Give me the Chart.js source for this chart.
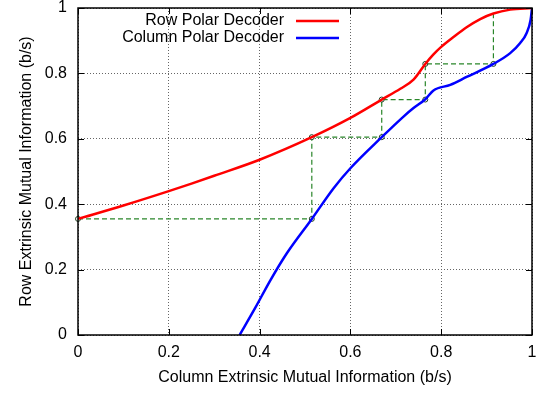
<!DOCTYPE html>
<html>
<head>
<meta charset="utf-8">
<script src="https://cdn.jsdelivr.net/npm/chart.js@4.4.1/dist/chart.umd.min.js"></script>
<style>
  html, body { margin: 0; padding: 0; background: #fff; }
  #wrap { width: 538px; height: 394px; }
</style>
</head>
<body>
<div id="wrap"><canvas id="exitChart"></canvas></div>
<script>
// EXIT chart data
const rowX = [0, 0.1, 0.2, 0.25, 0.3, 0.4, 0.515, 0.6, 0.669, 0.71, 0.739, 0.765, 0.783, 0.8, 0.827, 0.856, 0.886, 0.915, 0.952, 1];
const rowY = [0.355, 0.396, 0.44, 0.463, 0.487, 0.536, 0.605, 0.664, 0.72, 0.753, 0.781, 0.829, 0.858, 0.881, 0.911, 0.941, 0.966, 0.983, 0.995, 1];

const colX = [0.356, 0.39, 0.424, 0.46, 0.515, 0.563, 0.6, 0.669, 0.717, 0.739, 0.765, 0.783, 0.82, 0.856, 0.915, 0.952, 0.974, 0.988, 0.997, 1];
const colY = [0, 0.082, 0.168, 0.25, 0.355, 0.449, 0.51, 0.605, 0.668, 0.694, 0.721, 0.748, 0.765, 0.789, 0.829, 0.862, 0.893, 0.923, 0.964, 1];

// decoding trajectory (staircase)
const trajX = [0, 0.515, 0.515, 0.669, 0.669, 0.765, 0.765, 0.915, 0.915];
const trajY = [0.355, 0.355, 0.605, 0.605, 0.72, 0.72, 0.829, 0.829, 0.983];
const trajMarked = [1, 1, 1, 1, 1, 1, 1, 1, 0];

const tickValues = [0, 0.2, 0.4, 0.6, 0.8, 1];
const labels = ['Row Polar Decoder', 'Column Polar Decoder'];

const FONT = 'Liberation Sans, Arial, Helvetica, sans-serif';

function toPoints(xs, ys) {
    return xs.map((x, i) => ({ x: x, y: ys[i] }));
}

// gnuplot style frame, inward ticks and legend
const framePlugin = {
    id: 'frame',
    afterDatasetsDraw(chart) {
        const { ctx, chartArea: a, scales } = chart;
        ctx.save();
        ctx.strokeStyle = '#000';
        ctx.lineWidth = 1.5;
        ctx.setLineDash([]);
        ctx.strokeRect(a.left, a.top, a.right - a.left, a.bottom - a.top);

        ctx.lineWidth = 1;
        tickValues.forEach(v => {
            const px = Math.round(scales.x.getPixelForValue(v)) + 0.5;
            const py = Math.round(scales.y.getPixelForValue(v)) + 0.5;
            ctx.beginPath();
            ctx.moveTo(px, a.bottom); ctx.lineTo(px, a.bottom - 6);
            ctx.moveTo(px, a.top); ctx.lineTo(px, a.top + 6);
            ctx.moveTo(a.left, py); ctx.lineTo(a.left + 6, py);
            ctx.moveTo(a.right, py); ctx.lineTo(a.right - 6, py);
            ctx.stroke();
        });

        // legend
        ctx.font = '16px ' + FONT;
        ctx.textAlign = 'right';
        ctx.textBaseline = 'middle';
        chart.data.datasets.slice(0, 2).forEach((ds, i) => {
            const y = a.top + 13 + i * 17;
            ctx.fillStyle = '#000';
            ctx.fillText(ds.label, 284, y);
            ctx.strokeStyle = ds.borderColor;
            ctx.lineWidth = 2.5;
            ctx.beginPath();
            ctx.moveTo(296, y);
            ctx.lineTo(339, y);
            ctx.stroke();
        });
        ctx.restore();
    }
};

new Chart(document.getElementById('exitChart'), {
    type: 'scatter',
    data: {
        datasets: [
            {
                label: labels[0],
                data: toPoints(rowX, rowY),
                showLine: true,
                borderColor: '#ff0000',
                borderWidth: 2.5,
                pointRadius: 0,
                cubicInterpolationMode: 'monotone'
            },
            {
                label: labels[1],
                data: toPoints(colX, colY),
                showLine: true,
                borderColor: '#0000ff',
                borderWidth: 2.5,
                pointRadius: 0,
                cubicInterpolationMode: 'monotone'
            },
            {
                label: 'trajectory',
                data: toPoints(trajX, trajY),
                showLine: true,
                borderColor: '#2a862a',
                borderWidth: 1.2,
                borderDash: [5, 3],
                tension: 0,
                pointRadius: trajMarked.map(m => m ? 2.5 : 0),
                pointBorderColor: '#1f3f1f',
                pointBorderWidth: 1,
                pointBackgroundColor: '#fff',
                clip: false
            }
        ]
    },
    plugins: [framePlugin],
    options: {
        responsive: true,
        maintainAspectRatio: false,
        animation: false,
        layout: { padding: { left: 0, right: 6, top: 8, bottom: 0 } },
        plugins: {
            legend: { display: false },
            tooltip: { enabled: false }
        },
        scales: {
            x: {
                type: 'linear',
                min: 0,
                max: 1,
                afterBuildTicks: s => { s.ticks = tickValues.map(v => ({ value: v })); },
                afterFit: s => {
                    s.height = 59;
                    s.paddingLeft = 0;
                    s.paddingRight = 0;
                },
                ticks: {
                    padding: 8,
                    color: '#000',
                    font: { family: FONT, size: 16 },
                    callback: v => String(v)
                },
                grid: { color: '#666', drawTicks: false, lineWidth: 1 },
                border: { display: false, dash: [1, 2] },
                title: {
                    display: true,
                    text: 'Column Extrinsic Mutual Information (b/s)',
                    color: '#000',
                    font: { family: FONT, size: 16, lineHeight: 1.2 },
                    padding: { top: 0, bottom: 7 }
                }
            },
            y: {
                type: 'linear',
                min: 0,
                max: 1,
                afterBuildTicks: s => { s.ticks = tickValues.map(v => ({ value: v })); },
                afterFit: s => {
                    s.width = 78;
                    s.paddingTop = 0;
                    s.paddingBottom = 0;
                },
                ticks: {
                    padding: 11,
                    color: '#000',
                    font: { family: FONT, size: 16 },
                    callback: v => String(v)
                },
                grid: { color: '#666', drawTicks: false, lineWidth: 1 },
                border: { display: false, dash: [1, 2] },
                title: {
                    display: true,
                    text: 'Row Extrinsic Mutual Information (b/s)',
                    color: '#000',
                    font: { family: FONT, size: 16, lineHeight: 1.2 },
                    padding: { top: 17, bottom: 0 }
                }
            }
        }
    }
});
</script>
</body>
</html>
